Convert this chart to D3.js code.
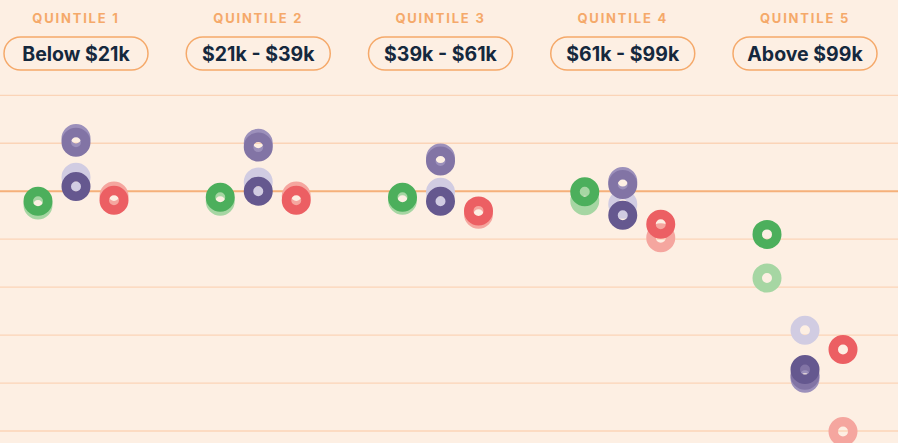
<!DOCTYPE html>
<html>
<head>
<meta charset="utf-8">
<script src="https://cdn.jsdelivr.net/npm/d3@7"></script>
<style>
  html, body { margin: 0; padding: 0; background: #fdefe3; }
  svg { display: block; }
</style>
</head>
<body>
<svg id="chart" width="898" height="443"></svg>
<script>
// ---- Data ----
const quintileLabels = ["QUINTILE 1", "QUINTILE 2", "QUINTILE 3", "QUINTILE 4", "QUINTILE 5"];
const incomeRanges = ["Below $21k", "$21k - $39k", "$39k - $61k", "$61k - $99k", "Above $99k"];
const gridTicks = [2, 1, 0, -1, -2, -3, -4, -5];

// values in grid units (0 = baseline)
const greenPrev   = [-0.29, -0.21, -0.19, -0.20, -1.81];
const greenCurr   = [-0.21, -0.125, -0.125, -0.01, -0.90];
const lavenderPrev = [0.29, 0.19, -0.02, -0.27, -2.90];
const purpleCurr   = [0.10, 0.00, -0.21, -0.50, -3.72];
const mediumPrev   = [1.10, 1.00, 0.69, 0.20, -3.90];
const mediumCurr   = [1.02, 0.92, 0.63, 0.14, -3.84];
const redPrev      = [-0.10, -0.10, -0.48, -0.97, -5.01];
const redCurr      = [-0.19, -0.19, -0.41, -0.69, -3.30];

const groups = ["green", "purple", "red"];

// draw order: previous (light) first, then current (dark)
const layers = [
  { values: greenPrev,    group: "green",  color: "#a6d6a3" },
  { values: lavenderPrev, group: "purple", color: "#d1cce2" },
  { values: mediumPrev,   group: "purple", color: "#9c90bb" },
  { values: redPrev,      group: "red",    color: "#f5a69f" },
  { values: greenCurr,    group: "green",  color: "#4caf5c" },
  { values: mediumCurr,   group: "purple", color: "#8274a5" },
  { values: purpleCurr,   group: "purple", color: "#65588f" },
  { values: redCurr,      group: "red",    color: "#ec5f63" }
];

// ---- Chart ----
const W = 898, H = 443;
const svg = d3.select("#chart");

const x = d3.scalePoint().domain(quintileLabels).range([76, 805]);
const xOff = d3.scalePoint().domain(groups).range([-38, 38]);
const y = d3.scaleLinear().domain([2, -5]).range([95.3, 431]);

// grid lines
svg.append("g").selectAll("line").data(gridTicks).join("line")
  .attr("x1", 0).attr("x2", W)
  .attr("y1", d => y(d)).attr("y2", d => y(d))
  .attr("stroke", d => d === 0 ? "#f5b07a" : "#fbd4b7")
  .attr("stroke-width", d => d === 0 ? 2 : 1.3);

// headers
const hdr = svg.append("g").selectAll("g").data(quintileLabels).join("g")
  .attr("transform", d => `translate(${x(d)},0)`);

hdr.append("text")
  .attr("y", 23)
  .attr("text-anchor", "middle")
  .attr("font-family", "Inter, 'Open Sans', sans-serif")
  .attr("font-weight", 700)
  .attr("font-size", 13)
  .attr("letter-spacing", "1.8px")
  .attr("fill", "#f5a96a")
  .text(d => d);

hdr.append("rect")
  .attr("x", -72).attr("y", 37)
  .attr("width", 144).attr("height", 33)
  .attr("rx", 16.5)
  .attr("fill", "none")
  .attr("stroke", "#f5a96a")
  .attr("stroke-width", 1.5);

hdr.append("text")
  .attr("y", 61)
  .attr("text-anchor", "middle")
  .attr("font-family", "Inter, 'Open Sans', sans-serif")
  .attr("font-weight", 700)
  .attr("font-size", 19.5)
  .attr("fill", "#15283d")
  .text((d, i) => incomeRanges[i]);

// rings
const rOuter = 14.5, rInner = 5;
const dots = svg.append("g");
layers.forEach(layer => {
  dots.append("g").selectAll("circle")
    .data(layer.values.map((v, i) => ({ v, q: quintileLabels[i] })))
    .join("circle")
    .attr("cx", d => x(d.q) + xOff(layer.group))
    .attr("cy", d => y(d.v))
    .attr("r", (rOuter + rInner) / 2)
    .attr("fill", "none")
    .attr("stroke", layer.color)
    .attr("stroke-width", rOuter - rInner);
});
</script>
</body>
</html>
